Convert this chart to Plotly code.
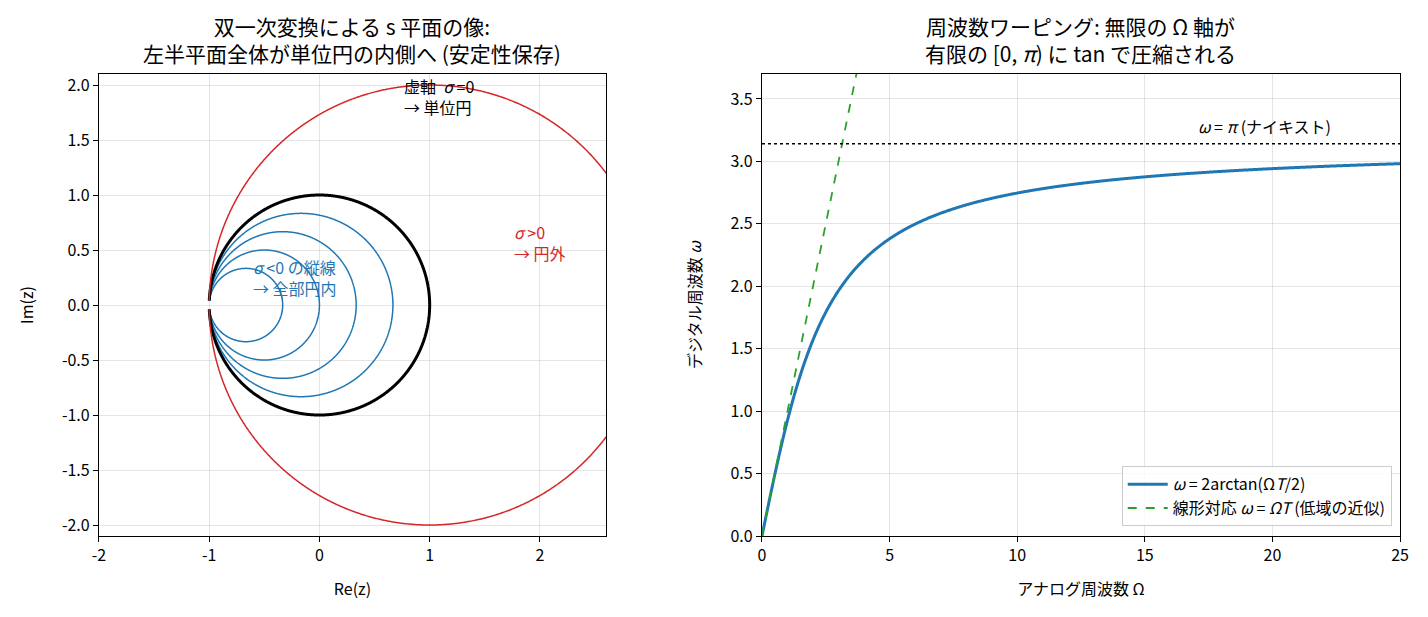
import numpy as np
import plotly.graph_objects as go

# 縦線 Re(s)=σ の値 (T=2 の双一次変換 z=(1+s)/(1-s))
sigma_inside = [-2.0, -1.0, -0.5, -0.2]
sigma_axis = 0.0
sigma_outside = [0.5]
omega_max = 50.0

# ワーピング (T=1)
T = 1.0
Omega_max = 25.0
nyquist = np.pi

# 目盛り
left_xticks = [-2, -1, 0, 1, 2]
left_yticks = [-2.0, -1.5, -1.0, -0.5, 0.0, 0.5, 1.0, 1.5, 2.0]
right_xticks = [0, 5, 10, 15, 20, 25]
right_yticks = [0.0, 0.5, 1.0, 1.5, 2.0, 2.5, 3.0, 3.5]

FONT = "Noto Sans CJK JP, DejaVu Sans"
BLUE = "#1f77b4"
RED = "#d62728"
GREEN = "#2ca02c"

w = np.tan(np.linspace(-np.arctan(omega_max), np.arctan(omega_max), 1500))


def mapped(sig):
    s = sig + 1j * w
    z = (1 + s) / (1 - s)
    return z.real, z.imag


fig = go.Figure()

for sig in sigma_inside:
    x, y = mapped(sig)
    fig.add_trace(go.Scatter(x=x, y=y, mode="lines", line=dict(color=BLUE, width=1.5, simplify=False),
                             showlegend=False, xaxis="x", yaxis="y"))
x, y = mapped(sigma_axis)
fig.add_trace(go.Scatter(x=x, y=y, mode="lines", line=dict(color="black", width=3, simplify=False),
                         showlegend=False, xaxis="x", yaxis="y"))
for sig in sigma_outside:
    x, y = mapped(sig)
    fig.add_trace(go.Scatter(x=x, y=y, mode="lines", line=dict(color=RED, width=1.5, simplify=False),
                             showlegend=False, xaxis="x", yaxis="y"))

Om = np.linspace(0, Omega_max, 1000)
fig.add_trace(go.Scatter(x=Om, y=2 * np.arctan(Om * T / 2), mode="lines",
                         line=dict(color=BLUE, width=3, simplify=False),
                         name="<i>ω</i> = 2arctan(Ω<i>T</i>/2)", xaxis="x2", yaxis="y2"))
Om_lin = np.linspace(0, 4, 50)
fig.add_trace(go.Scatter(x=Om_lin, y=Om_lin * T, mode="lines",
                         line=dict(color=GREEN, width=1.8, dash="dash"),
                         name="線形対応 <i>ω</i> = <i>ΩT</i> (低域の近似)", xaxis="x2", yaxis="y2"))
fig.add_trace(go.Scatter(x=[0, Omega_max], y=[nyquist, nyquist], mode="lines",
                         line=dict(color="black", width=1.3, dash="dot"),
                         showlegend=False, xaxis="x2", yaxis="y2"))


def ticklabels(vals, fmt):
    return [fmt.format(v).replace("\u2212", "-") for v in vals]


axis_common = dict(showline=True, linecolor="black", linewidth=1.2, mirror=True,
                   ticks="outside", ticklen=5, tickcolor="black", automargin=False,
                   showgrid=True, gridcolor="rgba(0,0,0,0.1)", zeroline=False,
                   tickfont=dict(size=16, color="black"))

# ページ余白 (8px) を差し引いた位置
fig.update_layout(
    width=1428, height=617,
    margin=dict(l=0, r=0, t=0, b=0),
    paper_bgcolor="white", plot_bgcolor="white",
    font=dict(family=FONT, size=16, color="black"),
    xaxis=dict(domain=[0.0637, 0.4188], range=[-2, 2.6], tickvals=left_xticks,
               ticktext=ticklabels(left_xticks, "{:d}"),
               title=dict(text="Re(z)", font=dict(size=16), standoff=18), anchor="y", **axis_common),
    yaxis=dict(domain=[0.1442, 0.8930], range=[-2.1, 2.1],
               tickvals=left_yticks, ticktext=ticklabels(left_yticks, "{:.1f}"),
               title=dict(text="Im(z)", font=dict(size=16), standoff=24), anchor="x", **axis_common),
    xaxis2=dict(domain=[0.5280, 0.9748], range=[0, 25], tickvals=right_xticks,
                title=dict(text="アナログ周波数 Ω", font=dict(size=16), standoff=18), anchor="y2", **axis_common),
    yaxis2=dict(domain=[0.1442, 0.8930], range=[0, 3.7],
                tickvals=right_yticks, ticktext=ticklabels(right_yticks, "{:.1f}"),
                title=dict(text="デジタル周波数 <i>ω</i>", font=dict(size=16), standoff=24),
                anchor="x2", **axis_common),
    legend=dict(x=0.9690, xanchor="right", y=0.16, yanchor="bottom",
                bgcolor="rgba(255,255,255,0.8)", bordercolor="#cccccc", borderwidth=1,
                font=dict(size=16), itemwidth=40),
)

fig.add_annotation(text="双一次変換による s 平面の像:<br>左半平面全体が単位円の内側へ (安定性保存)",
                   xref="paper", yref="paper", x=0.2412, y=0.900, xanchor="center", yanchor="bottom",
                   showarrow=False, font=dict(size=21))
fig.add_annotation(text="周波数ワーピング: 無限の Ω 軸が<br>有限の [0, <i>π</i>) に tan で圧縮される",
                   xref="paper", yref="paper", x=0.7514, y=0.900, xanchor="center", yanchor="bottom",
                   showarrow=False, font=dict(size=21))

fig.add_annotation(text="虚軸  <i>σ</i> =0<br>→ 単位円", xref="x", yref="y", x=0.75, y=1.90,
                   xanchor="left", yanchor="middle", align="left", showarrow=False,
                   font=dict(size=16, color="black"))
fig.add_annotation(text="<i>σ</i> <0 の縦線<br>→ 全部円内", xref="x", yref="y", x=-0.62, y=0.25,
                   xanchor="left", yanchor="middle", align="left", showarrow=False,
                   font=dict(size=16, color=BLUE))
fig.add_annotation(text="<i>σ</i> >0<br>→ 円外", xref="x", yref="y", x=1.75, y=0.57,
                   xanchor="left", yanchor="middle", align="left", showarrow=False,
                   font=dict(size=16, color=RED))
fig.add_annotation(text="<i>ω</i> = <i>π</i> (ナイキスト)", xref="x2", yref="y2", x=17.0, y=3.28,
                   xanchor="left", yanchor="middle", showarrow=False,
                   font=dict(size=16, color="black"))

fig.write_html("out.html")
